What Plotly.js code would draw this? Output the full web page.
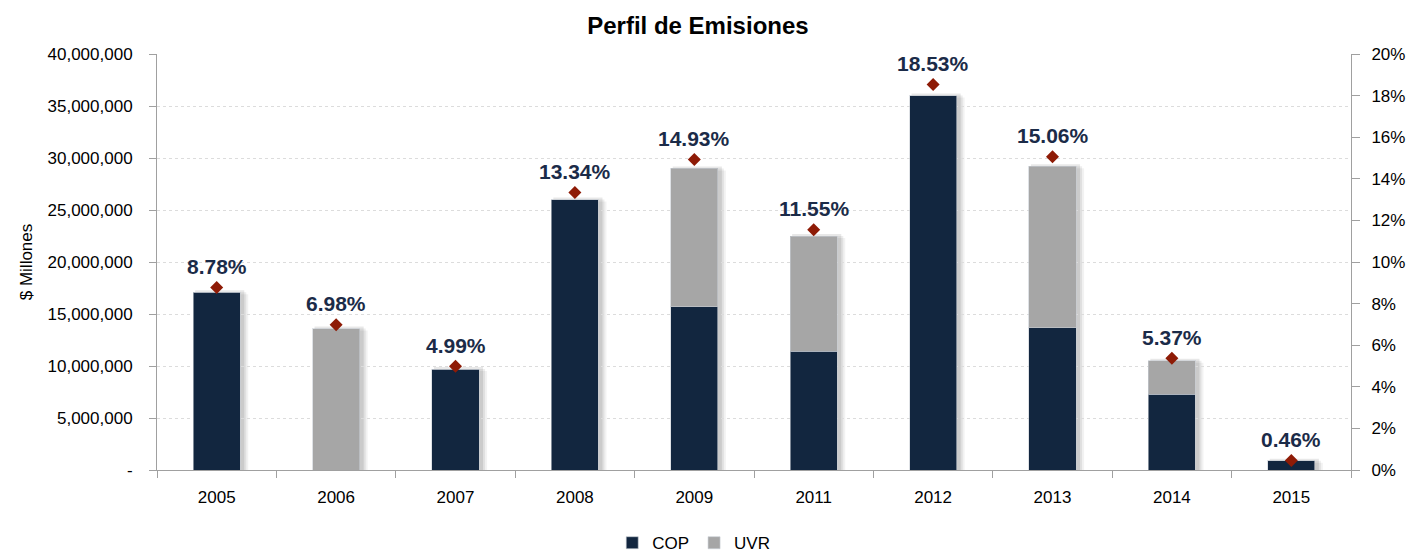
<!DOCTYPE html>
<html><head><meta charset="utf-8">
<script src="https://cdn.plot.ly/plotly-3.0.1.min.js"></script>
<style>html,body{margin:0;padding:0;background:#fff}#chart{width:1410px;height:552px}</style>
</head><body><div id="chart"></div>
<script>
const years = ["2005","2006","2007","2008","2009","2011","2012","2013","2014","2015"];
const cop = [17100000, 0, 9700000, 26000000, 15700000, 11400000, 36000000, 13700000, 7300000, 900000];
const uvr = [0, 13600000, 0, 0, 13300000, 11100000, 0, 15500000, 3200000, 0];
const pct = [8.78, 6.98, 4.99, 13.34, 14.93, 11.55, 18.53, 15.06, 5.37, 0.46];
const leftTickVals = [0, 5000000, 10000000, 15000000, 20000000, 25000000, 30000000, 35000000, 40000000];
const leftTickText = ["-", "5,000,000", "10,000,000", "15,000,000", "20,000,000", "25,000,000", "30,000,000", "35,000,000", "40,000,000"];

const totals = cop.map((v, i) => v + uvr[i]);
const BW = 0.395;
const catPx = 119.4;

// soft drop shadow behind each bar (layout shapes under the traces), positioned by category index
const shadowSteps = [{dx: 8, a: 0.05}, {dx: 6, a: 0.07}, {dx: 4, a: 0.09}];
const shapes = [];
years.forEach((yr, i) => {
  shadowSteps.forEach(s => {
    shapes.push({type: 'rect', layer: 'below', xref: 'x', yref: 'y',
      x0: i - BW/2 + 2/catPx, x1: i + BW/2 + s.dx/catPx,
      y0: 0, y1: totals[i] - (s.dx - 6) * 96000,
      fillcolor: 'rgba(0,0,0,' + s.a + ')', line: {width: 0}});
  });
});

const barLine = {color: 'rgba(200,205,212,0.6)', width: 1};
const traces = [
  {type: 'bar', name: 'COP', x: years, y: cop, width: BW,
   marker: {color: '#12263F', line: barLine}},
  {type: 'bar', name: 'UVR', x: years, y: uvr, width: BW,
   marker: {color: '#A6A6A6', line: barLine}},
  {type: 'scatter', mode: 'markers', x: years, y: pct, yaxis: 'y2',
   marker: {symbol: 'diamond', size: 10, color: '#8E1B06'}, showlegend: false}
];

// annotation x given as category index (numeric-looking category strings would be read as indices)
const annotations = years.map((yr, i) => ({
  x: i, y: pct[i], xref: 'x', yref: 'y2', yshift: 21, showarrow: false,
  text: '<b>' + pct[i].toFixed(2) + '%</b>',
  font: {family: '"Liberation Sans", Arial, sans-serif', size: 21, color: '#1B2B48'}
}));

const tickFont = {family: '"Liberation Sans", Arial, sans-serif', size: 17, color: '#000'};
const layout = {
  width: 1410, height: 552,
  margin: {l: 157, r: 59, t: 54, b: 82},
  paper_bgcolor: '#fff', plot_bgcolor: '#fff',
  barmode: 'stack',
  bargap: 0.6,
  title: {text: '<b>Perfil de Emisiones</b>', x: 0.495, xanchor: 'center', y: 0.953, yanchor: 'middle',
          font: {family: '"Liberation Sans", Arial, sans-serif', size: 24, color: '#000'}},
  xaxis: {type: 'category', range: [-0.5, years.length - 0.5], autorange: false,
          tickson: 'boundaries', ticks: 'outside', ticklen: 7, tickcolor: '#A0A0A0',
          showline: true, linecolor: '#A0A0A0', linewidth: 1, showgrid: false, tickfont: tickFont,
          zeroline: false, tickangle: 0, ticklabelstandoff: 12},
  yaxis: {range: [0, 40000000], tickvals: leftTickVals, ticktext: leftTickText,
          ticks: 'outside', ticklen: 7, tickcolor: '#A0A0A0', showline: true, linecolor: '#A0A0A0',
          showgrid: true, gridcolor: '#DCDCDC', griddash: 'dot', gridwidth: 1, zeroline: false,
          tickfont: tickFont, ticklabelstandoff: 13,
          title: {text: '$ Millones', font: {family: '"Liberation Sans", Arial, sans-serif', size: 17, color: '#000'}, standoff: 10}},
  yaxis2: {range: [0, 20], dtick: 2, ticksuffix: '%', overlaying: 'y', side: 'right',
           ticks: 'outside', ticklen: 8, tickcolor: '#A0A0A0', showline: true, linecolor: '#A0A0A0',
           showgrid: false, zeroline: false, tickfont: tickFont, ticklabelstandoff: 8},
  legend: {orientation: 'h', xref: 'container', yref: 'container', x: 0.492, xanchor: 'center',
           y: 0.016, yanchor: 'middle', font: tickFont, traceorder: 'normal', itemwidth: 30},
  annotations: annotations,
  shapes: shapes,
  showlegend: true
};
Plotly.newPlot('chart', traces, layout, {displayModeBar: false, staticPlot: true});
</script></body></html>
